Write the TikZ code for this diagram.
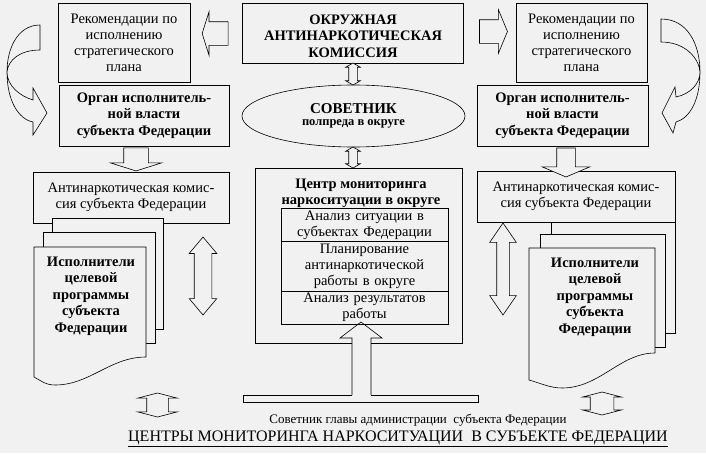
\documentclass[tikz,border=0pt]{standalone}
\usepackage{fontspec}
\setmainfont{Liberation Serif}
\usetikzlibrary{shapes}
\definecolor{paper}{RGB}{241,241,241}

\begin{document}
\begin{tikzpicture}[x=1pt,y=-1pt,line width=0.6pt]
        \tikzstyle{box}=[draw, fill=paper, align=center, inner sep=2pt, font=\fontsize{14.5}{16}\selectfont]
        \tikzstyle{bbox}=[box, font=\fontsize{14.5}{16.5}\selectfont\bfseries]
        \tikzstyle{sarrow}=[draw, fill=paper, single arrow, single arrow head indent=0pt, inner xsep=0pt]
        \tikzstyle{darrow}=[draw, fill=paper, double arrow, double arrow head indent=0pt, inner xsep=0pt]
        \tikzstyle{page}=[draw, fill=paper]
        \tikzstyle{ptext}=[align=center, font=\fontsize{14.5}{16.5}\selectfont\bfseries]
        \useasboundingbox[fill=paper] (0,0) rectangle (706,453);

        \node[box, minimum width=132pt, minimum height=79pt] (recL) at (124,42.5) {Рекомендации по\\ исполнению\\ стратегического\\ плана};
        \node[box, minimum width=131pt, minimum height=79pt] (recR) at (581.5,42.5) {Рекомендации по\\ исполнению\\ стратегического\\ плана};
        \node[bbox, minimum width=221pt, minimum height=60pt] (okr) at (352.5,33) {};
        \node[ptext] (okrT) at (353,36) {ОКРУЖНАЯ\\ АНТИНАРКОТИЧЕСКАЯ\\ КОМИССИЯ};
        \node[draw, fill=paper, ellipse, minimum width=223pt, minimum height=62pt, inner sep=0pt, align=center, font=\bfseries] (sov) at (353.5,116)
        {{\fontsize{15}{18}\selectfont СОВЕТНИК}\\{\fontsize{12.5}{15}\selectfont полпреда в округе}};
        \node[bbox, minimum width=170pt, minimum height=61pt] (orgL) at (144,115.5) {Орган исполнитель-\\ ной власти\\ субъекта Федерации};
        \node[bbox, minimum width=171pt, minimum height=61pt] (orgR) at (562.5,115.5) {Орган исполнитель-\\ ной власти\\ субъекта\ Федерации};
        \node[box, minimum width=196pt, minimum height=51pt] (antL) at (131,197.5) {Антинаркотическая комис-\\ сия субъекта Федерации};
        \node[box, minimum width=198pt, minimum height=51pt] (antR) at (576,196.5) {Антинаркотическая комис-\\ сия субъекта Федерации};

        \node[box, minimum width=207pt, minimum height=175pt] (cen) at (358.5,255.5) {};
        \node[ptext] (cenT) at (361,193.5) {Центр мониторинга\\ наркоситуации в округе};
        \node[box, rectangle split, rectangle split parts=3, text width=163pt, anchor=north] (tasks) at (364.5,208)
        {Анализ ситуации в\\ субъектах\ Федерации \nodepart{two} Планирование\\ антинаркотической\\ работы в округе \nodepart{three} Анализ результатов\\ работы};

        \draw[page] (52,218) rectangle (163,329);
        \draw[page] (43,232) rectangle (155,343);
        \draw[page] (34,247) -- (146,247) -- (146,357) .. controls (110,357) and (90,385) .. (55,385) .. controls (45,385) and (40,380) .. (34,377) -- cycle;
        \node[ptext] (execL) at (91,296) {Исполнители\\ целевой\\ программы\\ субъекта\\ Федерации};
        \draw[page] (551,222) rectangle (675,333);
        \draw[page] (540,234) rectangle (665,347);
        \draw[page] (529,248) -- (655,248) -- (655,353) .. controls (620,353) and (600,388) .. (562,388) .. controls (550,388) and (540,383) .. (529,380) -- cycle;
        \node[ptext] (execR) at (595,297) {Исполнители\\ целевой\\ программы\\ субъекта\\ Федерации};

        \node[sarrow, rotate=180, minimum height=26pt, inner ysep=11.5pt, single arrow head extend=10pt, single arrow tip angle=145] (toRecL) at (217,33.5) {};
        \node[sarrow, minimum height=28pt, inner ysep=11.5pt, single arrow head extend=10pt, single arrow tip angle=135] (toRecR) at (491,31.5) {};
        \node[sarrow, rotate=-90, minimum height=23pt, inner ysep=12pt, single arrow head extend=13.5pt, single arrow tip angle=145] (toAntL) at (136,157.5) {};
        \node[sarrow, rotate=-90, minimum height=29pt, inner ysep=9pt, single arrow head extend=14.5pt, single arrow tip angle=134] (toAntR) at (566,160.5) {};

        \node[darrow, rotate=90, minimum height=22pt, inner ysep=4pt, double arrow head extend=3pt, double arrow tip angle=120] (okrSov) at (353,74) {};
        \node[darrow, rotate=90, minimum height=21pt, inner ysep=4pt, double arrow head extend=3pt, double arrow tip angle=120] (sovCen) at (353,157.5) {};
        \node[darrow, rotate=90, minimum height=78pt, inner ysep=8.5pt, double arrow head extend=5pt, double arrow tip angle=80] (linkL) at (203,276) {};
        \node[darrow, rotate=90, minimum height=92pt, inner ysep=6pt, double arrow head extend=7pt, double arrow tip angle=69] (linkR) at (503,269) {};
        \node[darrow, rotate=90, minimum height=24pt, inner ysep=10.5pt, double arrow head extend=9pt, double arrow tip angle=151] (advL) at (157.5,405) {};
        \node[darrow, rotate=90, minimum height=23pt, inner ysep=11.5pt, double arrow head extend=7.5pt, double arrow tip angle=151] (advR) at (602,403.5) {};

        \draw[page] (40,25) .. controls (18,25) and (7,48) .. (7,72) .. controls (7,100) and (18,119) .. (33,122) -- (33,135) -- (47,113) -- (33,88) -- (33,100)
        .. controls (20,96) and (7,86) .. (7,72) .. controls (8,60) and (20,50) .. (40,50) -- cycle;
        \draw[page] (661,19) .. controls (688,19) and (700,45) .. (700,72) .. controls (700,100) and (690,118) .. (676,122) -- (673,133) -- (662,113) -- (675,87) -- (676,97)
        .. controls (690,94) and (700,84) .. (700,72) .. controls (699,58) and (685,42) .. (661,42) -- cycle;

        \node[draw, fill=paper, minimum width=235pt, minimum height=7pt, inner sep=0pt] (base) at (360.5,398.5) {};
        \fill[paper] (352,396) rectangle (371,338);
        \draw (352,395) -- (352,338) -- (340,338) -- (361,322) -- (382,338) -- (371,338) -- (371,395);

        \node[font=\fontsize{13}{15}\selectfont] (adv) at (418,420) {Советник главы администрации\ \ субъекта\ Федерации};
        \node[font=\fontsize{16}{18}\selectfont] (title) at (398,439) {\underline{ЦЕНТРЫ МОНИТОРИНГА НАРКОСИТУАЦИИ\ \ В СУБЪЕКТЕ ФЕДЕРАЦИИ}};
\end{tikzpicture}
\end{document}
